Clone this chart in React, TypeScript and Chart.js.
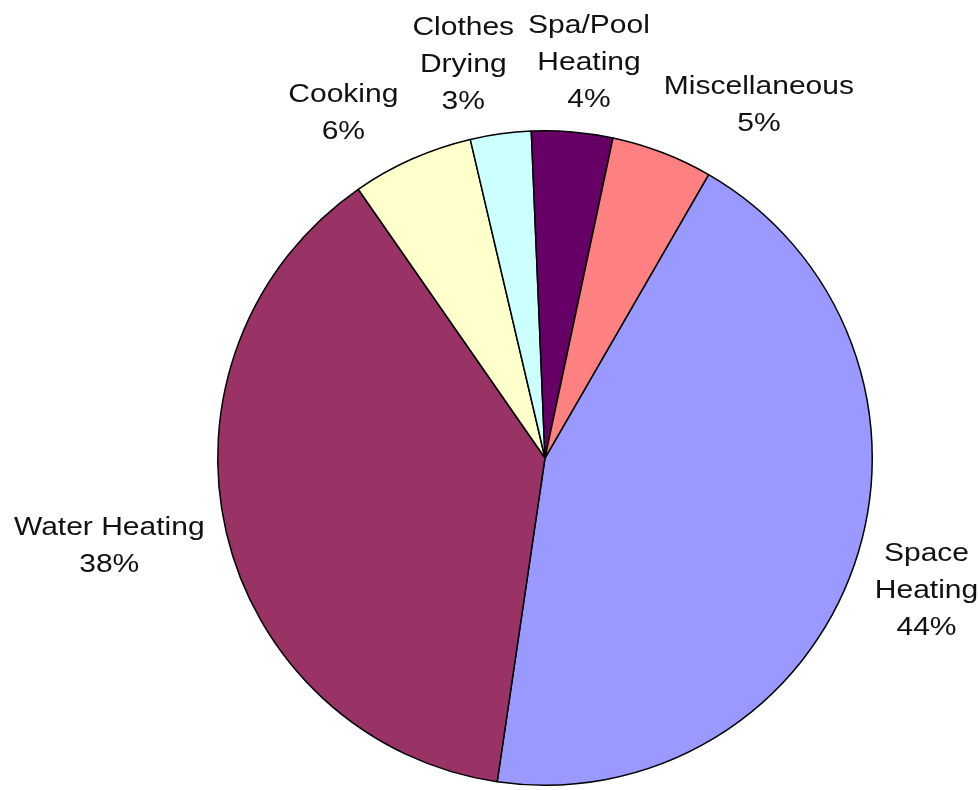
import React, { useEffect, useRef } from "react";
import { Chart, registerables } from "chart.js";

Chart.register(...registerables);

const categories = [
  "Space Heating",
  "Water Heating",
  "Cooking",
  "Clothes Drying",
  "Spa/Pool Heating",
  "Miscellaneous",
];
const labelLines = [
  ["Space", "Heating"],
  ["Water Heating"],
  ["Cooking"],
  ["Clothes", "Drying"],
  ["Spa/Pool", "Heating"],
  ["Miscellaneous"],
];
const shares = [44, 38, 6, 3, 4, 5];
const sliceColors = ["#9999FF", "#993366", "#FFFFCC", "#CCFFFF", "#660066", "#FF8080"];

const outsideLabels = {
  id: "outsideLabels",
  afterDatasetsDraw(chart: any) {
    const ctx = chart.ctx as CanvasRenderingContext2D;
    const meta = chart.getDatasetMeta(0);
    const data = chart.data.datasets[0].data as number[];
    const total = data.reduce((a, b) => a + b, 0);
    const fontSize = 25;
    const sx = 1.2;
    const lineH = 37;
    const capH = 18;
    const gap = 25;
    const pad = 14;
    ctx.save();
    ctx.font = `${fontSize}px "Liberation Sans", Arial, sans-serif`;
    const boxes = meta.data.map((arc: any, i: number) => {
      const p = arc.getProps(["x", "y", "startAngle", "endAngle", "outerRadius"], true);
      const a = (p.startAngle + p.endAngle) / 2;
      const lines = [...labelLines[i], Math.round((data[i] / total) * 100) + "%"];
      const w = Math.max(...lines.map((l) => ctx.measureText(l).width)) * sx;
      const h = capH + (lines.length - 1) * lineH;
      const r = p.outerRadius + gap;
      const cx = p.x + Math.cos(a) * r + (Math.cos(a) * w) / 2;
      const cy = p.y + Math.sin(a) * r + (Math.sin(a) * h) / 2;
      return { lines, w, h, cx, cy };
    });
    for (let it = 0; it < 300; it++) {
      let moved = false;
      for (let i = 0; i < boxes.length; i++) {
        for (let j = i + 1; j < boxes.length; j++) {
          const A = boxes[i];
          const B = boxes[j];
          const oy =
            Math.min(A.cy + A.h / 2, B.cy + B.h / 2) - Math.max(A.cy - A.h / 2, B.cy - B.h / 2);
          if (oy <= 0) continue;
          const L = A.cx < B.cx ? A : B;
          const R = A.cx < B.cx ? B : A;
          const ox = L.cx + L.w / 2 + pad - (R.cx - R.w / 2);
          if (ox > 0.01) {
            L.cx -= ox / 2;
            R.cx += ox / 2;
            moved = true;
          }
        }
      }
      if (!moved) break;
    }
    ctx.fillStyle = "#111";
    ctx.textAlign = "center";
    ctx.textBaseline = "alphabetic";
    boxes.forEach((b: any) => {
      const top = b.cy - b.h / 2;
      b.lines.forEach((line: string, k: number) => {
        ctx.save();
        ctx.translate(b.cx, top + capH + k * lineH);
        ctx.scale(sx, 1);
        ctx.fillText(line, 0, 0);
        ctx.restore();
      });
    });
    ctx.restore();
  },
};

export default function App() {
  const ref = useRef<HTMLCanvasElement | null>(null);
  useEffect(() => {
    document.body.style.margin = "0";
    if (!ref.current) return;
    const chart = new Chart(ref.current, {
      type: "pie",
      data: {
        labels: categories,
        datasets: [
          {
            data: shares,
            backgroundColor: sliceColors,
            borderColor: "#000000",
            borderWidth: 1.5,
          },
        ],
      },
      options: {
        responsive: false,
        animation: false,
        rotation: 30,
        layout: { padding: { left: 217, right: 105, top: 130, bottom: 4 } },
        plugins: {
          legend: { display: false },
          tooltip: { enabled: false },
        },
      },
      plugins: [outsideLabels],
    });
    return () => chart.destroy();
  }, []);
  return (
    <div style={{ position: "absolute", left: 0, top: 0, width: 978, height: 790, background: "#fff" }}>
      <canvas ref={ref} width={978} height={790} />
    </div>
  );
}
